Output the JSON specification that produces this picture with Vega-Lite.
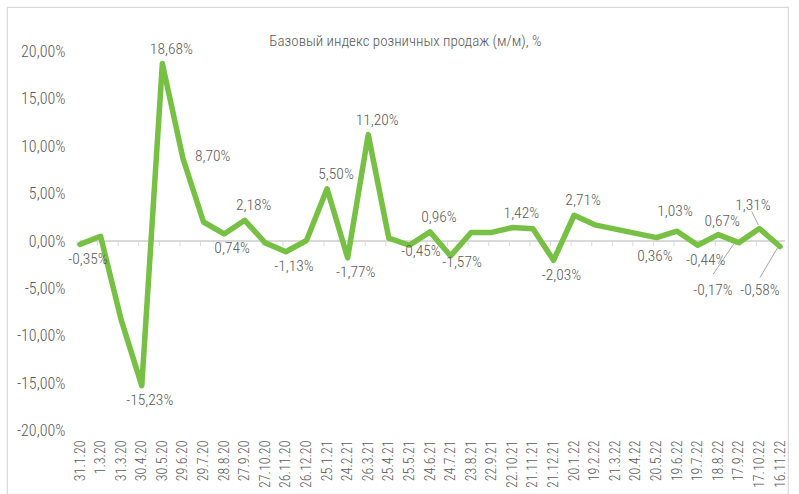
{
  "$schema": "https://vega.github.io/schema/vega-lite/v6.json",
  "autosize": {"type": "none"},
  "padding": {"left": 7, "top": 7, "right": 4, "bottom": 0},
  "width": 781,
  "height": 487,
  "background": "white",
  "config": {
    "view": {"stroke": "#d9d9d9", "strokeWidth": 1.2},
    "locale": {"number": {"decimal": ",", "thousands": " ", "grouping": [3], "currency": ["", "%"], "minus": "-"}},
    "text": {"font": "Roboto Condensed Light, Open Sans Condensed Light, sans-serif"}
  },
  "title": {
    "text": "Базовый индекс розничных продаж (м/м), %",
    "anchor": "middle",
    "frame": "group",
    "offset": -54,
    "baseline": "alphabetic",
    "dx": 8,
    "fontSize": 15,
    "fontWeight": "normal",
    "color": "#595959",
    "font": "Roboto Condensed Light, Open Sans Condensed Light, sans-serif"
  },
  "data": {"values": [
    {"d": "31.1.20", "v": -0.35},
    {"d": "1.3.20", "v": 0.5},
    {"d": "31.3.20", "v": -8.3},
    {"d": "30.4.20", "v": -15.23},
    {"d": "30.5.20", "v": 18.68},
    {"d": "29.6.20", "v": 8.70},
    {"d": "29.7.20", "v": 2.0},
    {"d": "28.8.20", "v": 0.74},
    {"d": "27.9.20", "v": 2.18},
    {"d": "27.10.20", "v": -0.2},
    {"d": "26.11.20", "v": -1.13},
    {"d": "26.12.20", "v": 0.05},
    {"d": "25.1.21", "v": 5.50},
    {"d": "24.2.21", "v": -1.77},
    {"d": "26.3.21", "v": 11.20},
    {"d": "25.4.21", "v": 0.3},
    {"d": "25.5.21", "v": -0.45},
    {"d": "24.6.21", "v": 0.96},
    {"d": "24.7.21", "v": -1.57},
    {"d": "23.8.21", "v": 0.9},
    {"d": "22.9.21", "v": 0.9},
    {"d": "22.10.21", "v": 1.42},
    {"d": "21.11.21", "v": 1.3},
    {"d": "21.12.21", "v": -2.03},
    {"d": "20.1.22", "v": 2.71},
    {"d": "19.2.22", "v": 1.7},
    {"d": "21.3.22", "v": 1.25},
    {"d": "20.4.22", "v": 0.8},
    {"d": "20.5.22", "v": 0.36},
    {"d": "19.6.22", "v": 1.03},
    {"d": "19.7.22", "v": -0.44},
    {"d": "18.8.22", "v": 0.67},
    {"d": "17.9.22", "v": -0.17},
    {"d": "17.10.22", "v": 1.31},
    {"d": "16.11.22", "v": -0.58}
  ]},
  "encoding": {
    "x": {
      "field": "d", "type": "ordinal", "sort": null,
      "scale": {"type": "point", "padding": 0, "range": [73, 773],
        "domain": ["31.1.20","1.3.20","31.3.20","30.4.20","30.5.20","29.6.20","29.7.20","28.8.20","27.9.20","27.10.20","26.11.20","26.12.20","25.1.21","24.2.21","26.3.21","25.4.21","25.5.21","24.6.21","24.7.21","23.8.21","22.9.21","22.10.21","21.11.21","21.12.21","20.1.22","19.2.22","21.3.22","20.4.22","20.5.22","19.6.22","19.7.22","18.8.22","17.9.22","17.10.22","16.11.22"]},
      "axis": {
        "orient": "bottom", "offset": -56, "labelAngle": -90, "labelPadding": 2,
        "ticks": false, "domain": false, "grid": false, "title": null,
        "labelOverlap": false, "labelFontSize": 14, "labelColor": "#595959",
        "labelFont": "Roboto Condensed Light, Open Sans Condensed Light, sans-serif"
      }
    },
    "y": {
      "field": "v", "type": "quantitative",
      "scale": {"domain": [-26.632, 24.632], "nice": false, "zero": false},
      "axis": {
        "orient": "left", "offset": -60, "labelPadding": 2,
        "values": [-20, -15, -10, -5, 0, 5, 10, 15, 20],
        "format": "$.2f", "ticks": false, "domain": false, "grid": false, "title": null,
        "labelFontSize": 16, "labelColor": "#595959",
        "labelFont": "Roboto Condensed Light, Open Sans Condensed Light, sans-serif"
      }
    }
  },
  "layer": [
    {
      "mark": {"type": "rule", "color": "#d9d9d9", "strokeWidth": 1.5, "x2Offset": 5},
      "encoding": {
        "x": {"datum": "31.1.20"},
        "x2": {"datum": "16.11.22"},
        "y": {"datum": 0}
      }
    },
    {
      "mark": {"type": "rule", "color": "#d9d9d9", "strokeWidth": 1, "xOffset": -3, "y2Offset": 5},
      "encoding": {
        "y": {"datum": 0},
        "y2": {"datum": 0}
      }
    },
    {
      "transform": [{"filter": {"field": "d", "equal": "17.9.22"}}],
      "mark": {"type": "rule", "color": "#a6a6a6", "strokeWidth": 1, "xOffset": -3.5, "yOffset": -1, "x2Offset": -25.5, "y2Offset": 31.4},
      "encoding": {"x2": {"field": "d"}, "y2": {"field": "v"}}
    },
    {
      "transform": [{"filter": {"field": "d", "equal": "17.10.22"}}],
      "mark": {"type": "rule", "color": "#a6a6a6", "strokeWidth": 1, "xOffset": -7.7, "yOffset": -17, "x2Offset": -1, "y2Offset": -3.6},
      "encoding": {"x2": {"field": "d"}, "y2": {"field": "v"}}
    },
    {
      "transform": [{"filter": {"field": "d", "equal": "16.11.22"}}],
      "mark": {"type": "rule", "color": "#a6a6a6", "strokeWidth": 1, "xOffset": -1.7, "yOffset": 0, "x2Offset": -20, "y2Offset": 31},
      "encoding": {"x2": {"field": "d"}, "y2": {"field": "v"}}
    },
    {
      "mark": {"type": "line", "color": "#76c043", "strokeWidth": 5.5, "strokeJoin": "round", "strokeCap": "round"},
      "encoding": {}
    },
    {
      "transform": [{"filter": {"field": "d", "oneOf": ["30.5.20", "27.9.20", "25.1.21", "26.3.21", "24.6.21", "22.10.21", "20.1.22"]}}],
      "mark": {"type": "text", "dx": 9, "dy": -15, "baseline": "middle", "fontSize": 15.5, "color": "#595959"},
      "encoding": {"text": {"field": "v", "type": "quantitative", "format": "$.2f"}}
    },
    {
      "transform": [{"filter": {"field": "d", "oneOf": ["19.6.22"]}}],
      "mark": {"type": "text", "dx": -2, "dy": -20, "baseline": "middle", "fontSize": 15.5, "color": "#595959"},
      "encoding": {"text": {"field": "v", "type": "quantitative", "format": "$.2f"}}
    },
    {
      "transform": [{"filter": {"field": "d", "oneOf": ["18.8.22"]}}],
      "mark": {"type": "text", "dx": 4, "dy": -14, "baseline": "middle", "fontSize": 15.5, "color": "#595959"},
      "encoding": {"text": {"field": "v", "type": "quantitative", "format": "$.2f"}}
    },
    {
      "transform": [{"filter": {"field": "d", "oneOf": ["31.1.20", "30.4.20", "28.8.20", "26.11.20", "24.2.21", "21.12.21", "19.7.22"]}}],
      "mark": {"type": "text", "dx": 8, "dy": 14.5, "baseline": "middle", "fontSize": 15.5, "color": "#595959"},
      "encoding": {"text": {"field": "v", "type": "quantitative", "format": "$.2f"}}
    },
    {
      "transform": [{"filter": {"field": "d", "oneOf": ["25.5.21", "24.7.21"]}}],
      "mark": {"type": "text", "dx": 11.5, "dy": 6, "baseline": "middle", "fontSize": 15.5, "color": "#595959"},
      "encoding": {"text": {"field": "v", "type": "quantitative", "format": "$.2f"}}
    },
    {
      "transform": [{"filter": {"field": "d", "oneOf": ["20.5.22"]}}],
      "mark": {"type": "text", "dx": -1.5, "dy": 18.7, "baseline": "middle", "fontSize": 15.5, "color": "#595959"},
      "encoding": {"text": {"field": "v", "type": "quantitative", "format": "$.2f"}}
    },
    {
      "transform": [{"filter": {"field": "d", "oneOf": ["29.6.20"]}}],
      "mark": {"type": "text", "dx": 12, "dy": -2, "align": "left", "baseline": "middle", "fontSize": 15.5, "color": "#595959"},
      "encoding": {"text": {"field": "v", "type": "quantitative", "format": "$.2f"}}
    },
    {
      "transform": [{"filter": {"field": "d", "oneOf": ["17.9.22"]}}],
      "mark": {"type": "text", "dx": -25.8, "dy": 47, "baseline": "middle", "fontSize": 15.5, "color": "#595959"},
      "encoding": {"text": {"field": "v", "type": "quantitative", "format": "$.2f"}}
    },
    {
      "transform": [{"filter": {"field": "d", "oneOf": ["17.10.22"]}}],
      "mark": {"type": "text", "dx": -6.4, "dy": -24, "baseline": "middle", "fontSize": 15.5, "color": "#595959"},
      "encoding": {"text": {"field": "v", "type": "quantitative", "format": "$.2f"}}
    },
    {
      "transform": [{"filter": {"field": "d", "oneOf": ["16.11.22"]}}],
      "mark": {"type": "text", "dx": -20, "dy": 43.5, "baseline": "middle", "fontSize": 15.5, "color": "#595959"},
      "encoding": {"text": {"field": "v", "type": "quantitative", "format": "$.2f"}}
    }
  ]
}
